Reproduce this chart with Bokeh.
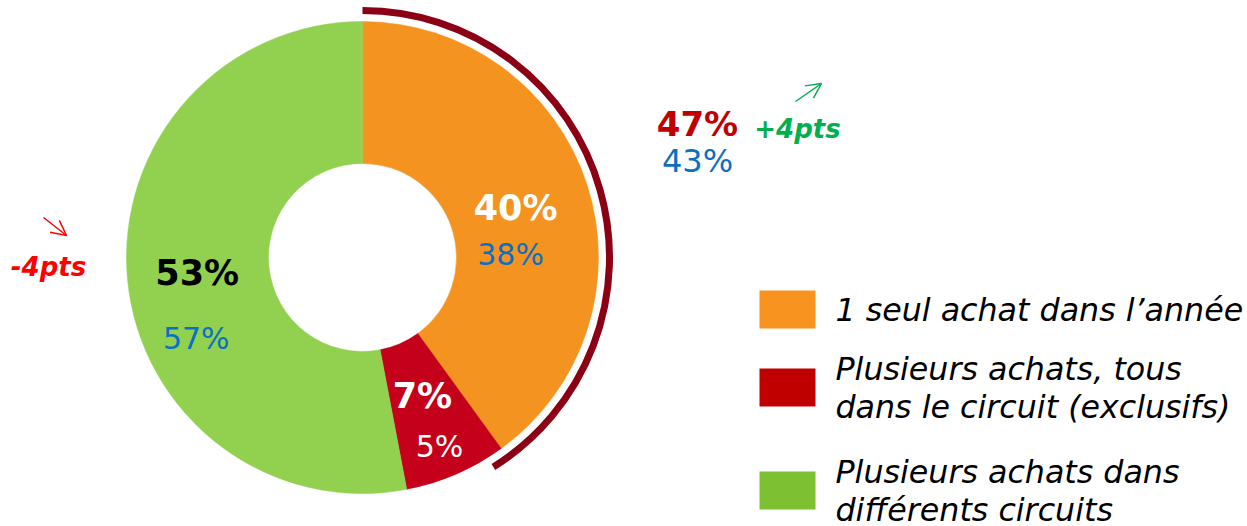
import numpy as np
from bokeh.plotting import figure
from bokeh.models import Range1d, Arrow, OpenHead, ColumnDataSource
from bokeh.core.properties import value
from bokeh.embed import file_html
from bokeh.resources import INLINE

# ---- data ----
categories = ["1 seul achat dans l’année",
              "Plusieurs achats, tous\ndans le circuit (exclusifs)",
              "Plusieurs achats dans\ndifférents circuits"]
current = [40, 7, 53]
previous = [38, 5, 57]
current_labels = ["40%", "7%", "53%"]
previous_labels = ["38%", "5%", "57%"]
group_total_label = "47%"
group_prev_label = "43%"
up_label = "+4pts"
down_label = "-4pts"

slice_colors = ["#F59321", "#C5001A", "#92D050"]
legend_colors = ["#F7931E", "#C00000", "#7DC031"]

W, H = 1247, 526
FONT = "DejaVu Sans"
BLUE = "#0A71C2"


def X(ix):
    return ix


def Y(iy):
    return H - iy


p = figure(width=W, height=H, output_backend="svg", toolbar_location=None,
           x_range=Range1d(0, W), y_range=Range1d(0, H), min_border=0)
p.axis.visible = False
p.grid.visible = False
p.outline_line_color = None
p.background_fill_color = "white"

cx, cy = X(362), Y(257)
r_out, r_in = 236, 94

vals = np.array(current, dtype=float)
frac = vals / vals.sum()
cum = np.concatenate([[0], np.cumsum(frac)])
start = np.pi / 2 - 2 * np.pi * cum[:-1]
end = np.pi / 2 - 2 * np.pi * cum[1:]
src = ColumnDataSource(dict(start=start, end=end, color=slice_colors))
p.annular_wedge(x=cx, y=cy, inner_radius=r_in, outer_radius=r_out,
                start_angle="start", end_angle="end", direction="clock",
                fill_color="color", line_color="color", line_width=0.5, source=src)

# highlight arc
p.arc(x=cx, y=cy, radius=247, start_angle=np.pi / 2,
      end_angle=np.pi / 2 - np.deg2rad(148), direction="clock",
      line_color="#8B0014", line_width=7)

# slice labels
mid = (start + end) / 2
lab_r = [161, 151, 166]
lx = [cx + r * np.cos(a) for r, a in zip(lab_r, mid)]
ly = [cy + r * np.sin(a) for r, a in zip(lab_r, mid)]
cur_colors = ["white", "white", "black"]
prev_colors = [BLUE, "white", BLUE]
prev_dx = [-5, 17, -1]
prev_dy = [-47, -50, -65]
p.text(x=lx, y=ly, text=current_labels, text_color=cur_colors,
       text_font=value(FONT), text_font_style="bold", text_font_size="35px",
       text_align="center", text_baseline="middle")
p.text(x=[a + b for a, b in zip(lx, prev_dx)], y=[a + b for a, b in zip(ly, prev_dy)],
       text=previous_labels, text_color=prev_colors,
       text_font=value(FONT), text_font_size="30px",
       text_align="center", text_baseline="middle")

# group labels
p.text(x=[X(697)], y=[Y(123)], text=[group_total_label], text_color="#C00000",
       text_font=value(FONT), text_font_style="bold", text_font_size="34px",
       text_align="center", text_baseline="middle")
p.text(x=[X(697)], y=[Y(160)], text=[group_prev_label], text_color=BLUE,
       text_font=value(FONT), text_font_size="32px",
       text_align="center", text_baseline="middle")
p.text(x=[X(797)], y=[Y(128)], text=[up_label], text_color="#00B050",
       text_font=value(FONT), text_font_style="bold italic", text_font_size="26px",
       text_align="center", text_baseline="middle")
p.text(x=[X(48)], y=[Y(266)], text=[down_label], text_color="#FF0000",
       text_font=value(FONT), text_font_style="bold italic", text_font_size="26px",
       text_align="center", text_baseline="middle")

p.add_layout(Arrow(end=OpenHead(size=15, line_color="#00B050", line_width=1.5),
                   x_start=X(795), y_start=Y(101), x_end=X(821), y_end=Y(83),
                   line_color="#00B050", line_width=1.5))
p.add_layout(Arrow(end=OpenHead(size=15, line_color="#FF0000", line_width=1.5),
                   x_start=X(43), y_start=Y(217), x_end=X(66), y_end=Y(235),
                   line_color="#FF0000", line_width=1.5))

# legend
sq_top = [290, 368, 471]
p.quad(left=[X(759)] * 3, right=[X(815)] * 3,
       top=[Y(t) for t in sq_top], bottom=[Y(t + 38) for t in sq_top],
       fill_color=legend_colors, line_color=None)
line_gap = 38
lines_x, lines_y, lines_t = [], [], []
for t, cat in zip(sq_top, categories):
    parts = cat.split("\n")
    c = t + 19
    first = c - line_gap * (len(parts) - 1) / 2
    for k, part in enumerate(parts):
        lines_x.append(X(835))
        lines_y.append(Y(first + k * line_gap))
        lines_t.append(part)
p.text(x=lines_x, y=lines_y, text=lines_t,
       text_color="black", text_font=value(FONT), text_font_style="italic",
       text_font_size="31.7px", text_align="left", text_baseline="middle")

open("out.html", "w").write(file_html(p, INLINE))
